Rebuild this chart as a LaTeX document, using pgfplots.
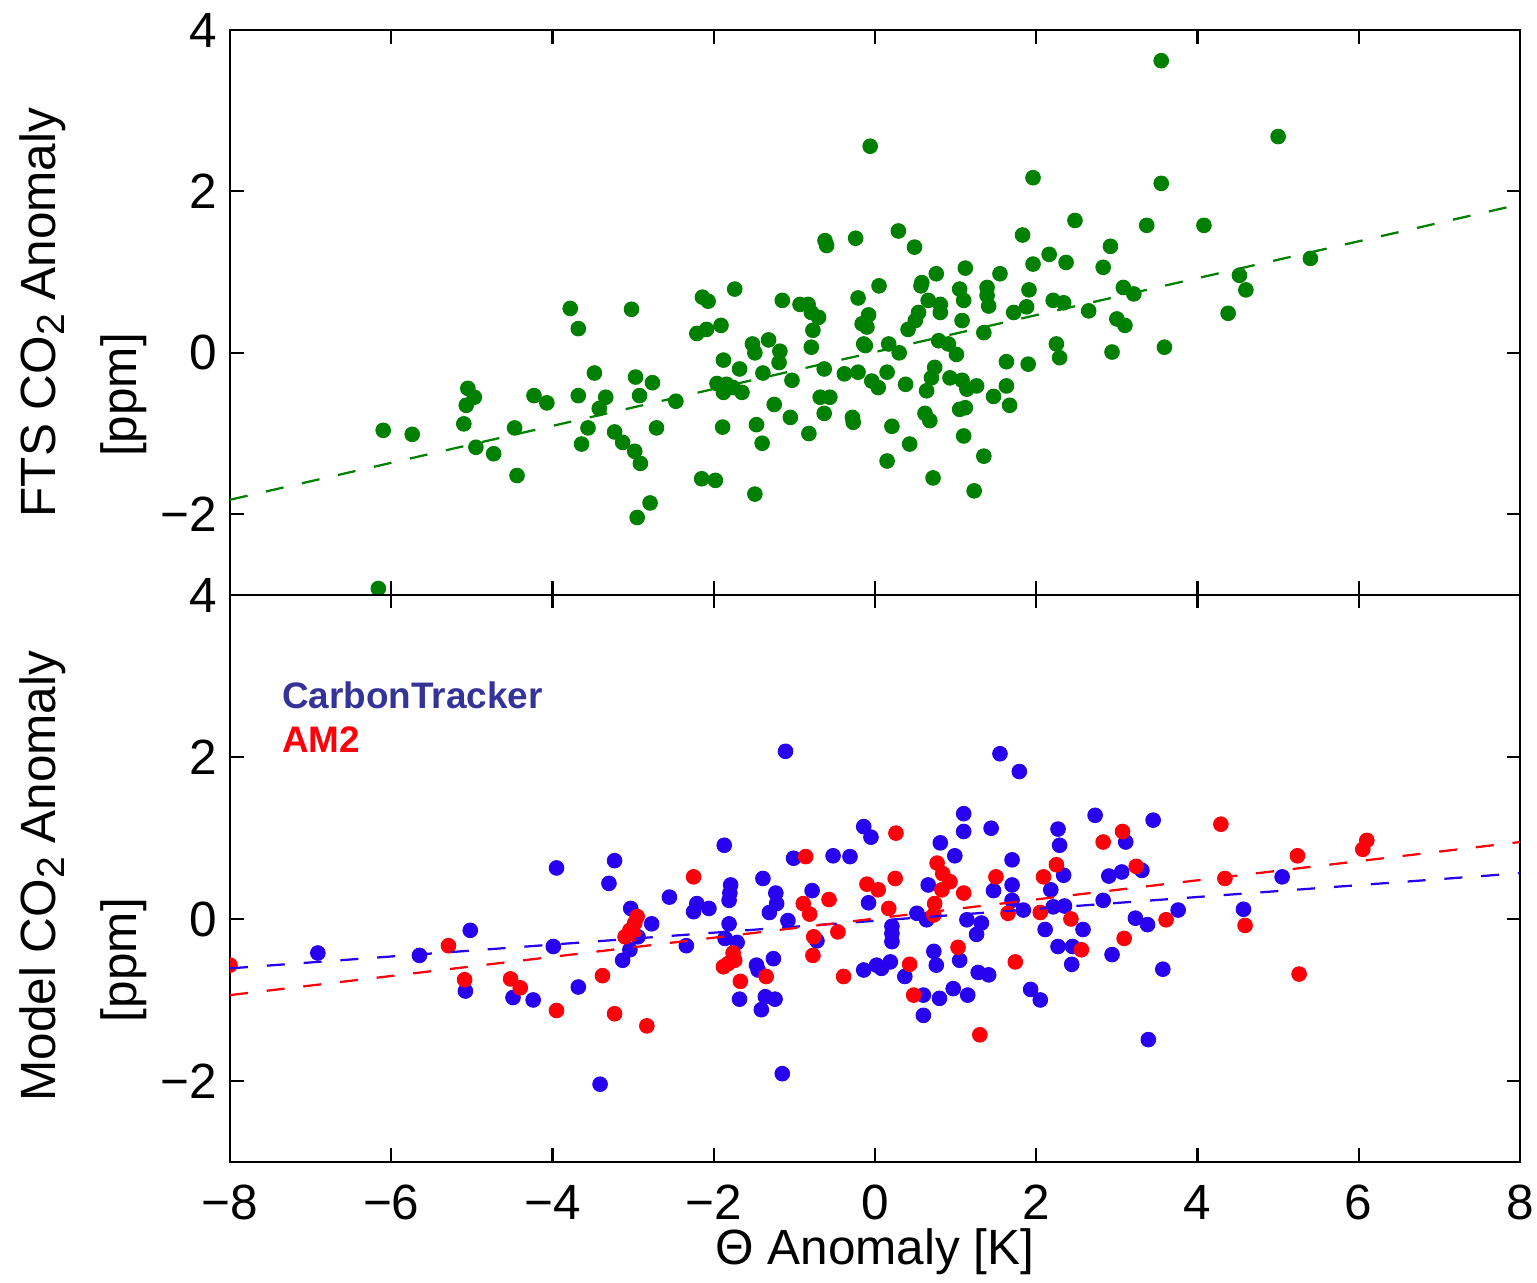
\documentclass[border=0pt]{standalone}
\usepackage{pgfplots}
\pgfplotsset{compat=1.18}
\usepackage{fontspec}
\setmainfont{Liberation Sans}
\definecolor{ptgreen}{RGB}{0,128,0}
\definecolor{ptblue}{RGB}{40,0,240}
\definecolor{ptred}{RGB}{255,0,10}
\definecolor{ctlabel}{RGB}{51,51,153}

\pgfplotstableread{
x y
-6.10 -0.96
-5.74 -1.01
-5.05 -0.44
-4.97 -0.55
-5.07 -0.65
-5.10 -0.88
-4.95 -1.17
-4.73 -1.25
-4.47 -0.93
-4.44 -1.52
-4.23 -0.53
-4.07 -0.62
-6.16 -2.92
-3.78 0.55
-3.68 0.30
-3.02 0.54
-3.48 -0.25
-3.68 -0.53
-3.34 -0.55
-3.42 -0.69
-3.56 -0.93
-3.64 -1.13
-3.23 -0.98
-3.13 -1.11
-2.98 -1.22
-2.91 -1.37
-2.97 -0.30
-2.76 -0.37
-2.92 -0.53
-2.71 -0.93
-2.47 -0.60
-2.79 -1.86
-2.95 -2.04
-2.14 0.69
-2.07 0.64
-1.74 0.79
-2.21 0.24
-2.09 0.29
-1.91 0.34
-1.88 -0.09
-1.68 -0.20
-1.96 -0.38
-1.84 -0.39
-1.88 -0.49
-1.76 -0.43
-1.65 -0.49
-1.89 -0.92
-2.15 -1.56
-1.98 -1.58
-1.49 -1.75
-1.52 0.11
-1.49 0.00
-1.32 0.16
-1.18 0.02
-1.19 -0.12
-1.39 -0.25
-1.47 -0.89
-1.40 -1.12
-1.25 -0.64
-1.05 -0.80
-0.82 -1.00
-1.03 -0.34
-1.15 0.65
-0.93 0.60
-0.83 0.60
-0.79 0.50
-0.70 0.44
-0.77 0.28
-0.79 0.07
-0.62 1.39
-0.60 1.33
-0.24 1.42
-0.63 -0.20
-0.38 -0.26
-0.68 -0.55
-0.56 -0.55
-0.63 -0.75
-0.28 -0.80
-0.27 -0.86
-0.21 0.68
-0.08 0.47
-0.16 0.36
-0.10 0.32
-0.12 0.09
-0.21 -0.24
-0.04 -0.35
0.04 -0.43
0.05 0.83
-0.06 2.56
0.29 1.51
0.49 1.31
0.76 0.98
0.58 0.87
0.57 0.83
1.12 1.05
1.55 0.98
1.05 0.79
1.10 0.65
1.39 0.81
1.39 0.71
1.41 0.58
0.66 0.65
0.81 0.60
0.81 0.50
0.54 0.50
0.50 0.40
0.41 0.29
1.08 0.40
1.35 0.25
1.83 1.46
1.96 2.17
2.48 1.64
2.16 1.22
1.96 1.10
2.37 1.12
1.91 0.78
1.88 0.57
1.72 0.50
2.21 0.65
2.34 0.62
2.65 0.52
2.92 1.32
2.83 1.06
3.37 1.58
3.55 2.10
3.08 0.81
3.21 0.73
3.00 0.42
3.10 0.34
2.94 0.01
3.59 0.07
2.25 0.11
2.29 -0.06
1.63 -0.11
1.90 -0.14
1.63 -0.41
1.67 -0.65
1.47 -0.54
-0.14 0.11
0.17 0.11
0.30 0.00
0.79 0.15
0.91 0.11
1.01 -0.02
0.15 -0.24
0.38 -0.39
0.74 -0.18
0.70 -0.31
0.64 -0.47
0.93 -0.31
1.08 -0.34
1.14 -0.45
1.26 -0.41
1.05 -0.70
1.12 -0.68
0.62 -0.75
0.68 -0.84
0.21 -0.91
0.43 -1.13
1.10 -1.03
0.15 -1.34
1.35 -1.28
0.72 -1.55
1.23 -1.71
5.00 2.68
4.08 1.58
5.40 1.17
4.52 0.96
4.60 0.78
4.38 0.49
3.55 3.62
}\ftsdata

\pgfplotstableread{
x y
-6.91 -0.42
-5.65 -0.45
-5.02 -0.14
-5.08 -0.89
-4.49 -0.97
-4.24 -1.00
-3.95 0.63
-3.99 -0.34
-1.11 2.07
-3.23 0.72
-3.30 0.44
-3.68 -0.84
-3.41 -2.04
-3.03 0.13
-2.94 -0.22
-3.04 -0.38
-3.13 -0.51
-2.77 -0.06
-2.55 0.27
-2.34 -0.33
-2.25 0.09
-2.21 0.19
-2.06 0.13
-1.87 0.91
-1.79 0.42
-1.80 0.32
-1.81 0.23
-1.81 -0.06
-1.86 -0.24
-1.71 -0.29
-1.68 -0.99
-1.39 0.50
-1.23 0.32
-1.22 0.19
-1.31 0.08
-1.08 -0.02
-1.26 -0.49
-1.45 -0.63
-1.47 -0.57
-1.36 -0.96
-1.24 -0.99
-1.41 -1.12
-1.15 -1.91
-1.01 0.75
-0.52 0.78
-0.31 0.77
-0.14 1.14
-0.05 1.01
-0.78 0.35
-0.72 -0.27
-0.14 -0.63
0.02 -0.57
-0.08 0.20
1.55 2.04
1.79 1.82
1.10 1.30
1.10 1.08
1.44 1.12
0.81 0.94
0.99 0.78
0.66 0.42
0.52 0.07
0.64 -0.01
1.47 0.35
1.70 0.73
1.70 0.42
1.70 0.23
1.84 0.11
1.14 -0.01
1.32 -0.05
1.26 -0.19
0.21 -0.09
0.21 -0.18
0.21 -0.28
0.73 -0.40
0.76 -0.57
1.05 -0.51
0.19 -0.53
0.08 -0.61
0.37 -0.71
1.28 -0.66
1.41 -0.69
0.60 -0.94
0.80 -0.98
0.97 -0.86
1.15 -0.94
0.60 -1.19
1.93 -0.87
2.05 -1.00
2.27 1.11
2.29 0.91
2.34 0.54
2.18 0.36
2.21 0.15
2.35 0.16
2.11 -0.13
2.58 -0.13
2.27 -0.34
2.45 -0.34
2.44 -0.56
2.73 1.28
3.11 0.95
3.45 1.22
2.90 0.53
3.06 0.58
3.31 0.60
2.83 0.23
3.23 0.01
3.38 -0.07
3.76 0.11
2.94 -0.44
3.57 -0.62
3.39 -1.49
4.57 0.12
5.05 0.52
}\ctdata

\pgfplotstableread{
x y
-8.00 -0.57
-5.29 -0.33
-5.09 -0.75
-4.52 -0.74
-4.40 -0.85
-3.95 -1.13
-3.38 -0.70
-3.23 -1.17
-2.83 -1.32
-2.95 0.03
-2.98 -0.05
-3.04 -0.14
-3.10 -0.22
-3.00 -0.18
-2.25 0.52
-1.76 -0.42
-1.74 -0.51
-1.88 -0.59
-1.82 -0.55
-1.67 -0.77
-1.35 -0.71
-0.86 0.77
-0.57 0.24
-0.89 0.19
-0.81 0.06
-0.46 -0.16
-0.76 -0.22
-0.77 -0.45
-0.39 -0.71
-0.10 0.43
0.04 0.36
0.26 1.06
0.77 0.69
0.84 0.56
0.93 0.46
0.83 0.36
0.74 0.19
0.73 0.05
0.25 0.50
0.17 0.13
1.10 0.32
1.50 0.52
1.65 0.07
1.03 -0.35
0.43 -0.56
1.74 -0.53
0.48 -0.94
1.30 -1.43
2.25 0.67
2.09 0.52
2.05 0.08
2.43 0.00
2.56 -0.38
2.83 0.95
3.07 1.08
3.24 0.65
3.61 -0.01
3.09 -0.24
4.29 1.17
4.34 0.50
4.59 -0.08
5.24 0.78
5.26 -0.68
6.10 0.97
6.05 0.86
}\amdata

\begin{document}
\fontsize{16.5}{19.8}\selectfont
\begin{tikzpicture}
\pgfplotsset{
  panel/.style={
    width=430pt, scale only axis,
    xmin=-8, xmax=8, ymin=-3, ymax=4,
    xtick={-8,-6,-4,-2,0,2,4,6,8},
    ytick={-2,0,2,4},
    yticklabels={−2,0,2,4},
    tick align=inside,
    major tick length=4.5pt,
    axis line style={line width=0.8pt, black},
    every tick/.style={line width=0.7pt, black},
    tick label style={font=\fontsize{16.5}{19.8}\selectfont},
    yticklabel style={anchor=east, inner sep=0pt, xshift=-4pt},
    xticklabel style={anchor=base, inner sep=0pt, yshift=-19.3pt},
    clip mode=individual,
    clip marker paths=true,
  },
  dot/.style={color=#1, only marks, mark=*, mark size=2.45pt,
    mark options={line width=0.3pt, draw=#1, fill=#1}},
  fit/.style={color=#1, line width=0.75pt, dash pattern=on 6pt off 6.3pt, no marks},
}
% top panel
\begin{axis}[panel, at={(0pt,189pt)}, anchor=south west, height=188.33pt,
  xticklabels={}]
\addplot[dot=ptgreen] table[x=x,y=y] {\ftsdata};
\addplot[fit=ptgreen] coordinates {(-8,-1.82) (8,1.84)};
\node[rotate=90, anchor=base, inner sep=0pt] at ([xshift=-58.3pt]rel axis cs:0,0.5) {FTS CO\raisebox{-0.35ex}{\fontsize{13}{15}\selectfont 2} Anomaly};
\node[rotate=90, anchor=base, inner sep=0pt] at ([xshift=-31.3pt]rel axis cs:0,0.354) {[ppm]};
\end{axis}
% bottom panel
\begin{axis}[panel, at={(0pt,0pt)}, anchor=south west, height=189pt,
  xticklabels={−8,−6,−4,−2,0,2,4,6,8}]
\addplot[dot=ptblue] table[x=x,y=y] {\ctdata};
\addplot[dot=ptred] table[x=x,y=y] {\amdata};
\addplot[fit=ptblue] coordinates {(-8,-0.61) (8,0.565)};
\addplot[fit=ptred] coordinates {(-8,-0.94) (8,0.95)};
\node[anchor=base west, inner sep=0pt, text=ctlabel, font=\bfseries\fontsize{12.3}{14}\selectfont] at (axis cs:-7.36,2.60) {CarbonTracker};
\node[anchor=base west, inner sep=0pt, text=ptred, font=\bfseries\fontsize{12.3}{14}\selectfont] at (axis cs:-7.36,2.05) {AM2};
\node[rotate=90, anchor=base, inner sep=0pt] at ([xshift=-58.3pt]rel axis cs:0,0.504) {Model CO\raisebox{-0.35ex}{\fontsize{13}{15}\selectfont 2} Anomaly};
\node[rotate=90, anchor=base, inner sep=0pt] at ([xshift=-31.3pt]rel axis cs:0,0.356) {[ppm]};
\node[anchor=base, inner sep=0pt] at ([yshift=-34.3pt]rel axis cs:0.5,0) {Θ Anomaly [K]};
\end{axis}
\pgfresetboundingbox
\useasboundingbox (-76.67pt,-40.33pt) rectangle (435.67pt,387.33pt);
\end{tikzpicture}
\end{document}
